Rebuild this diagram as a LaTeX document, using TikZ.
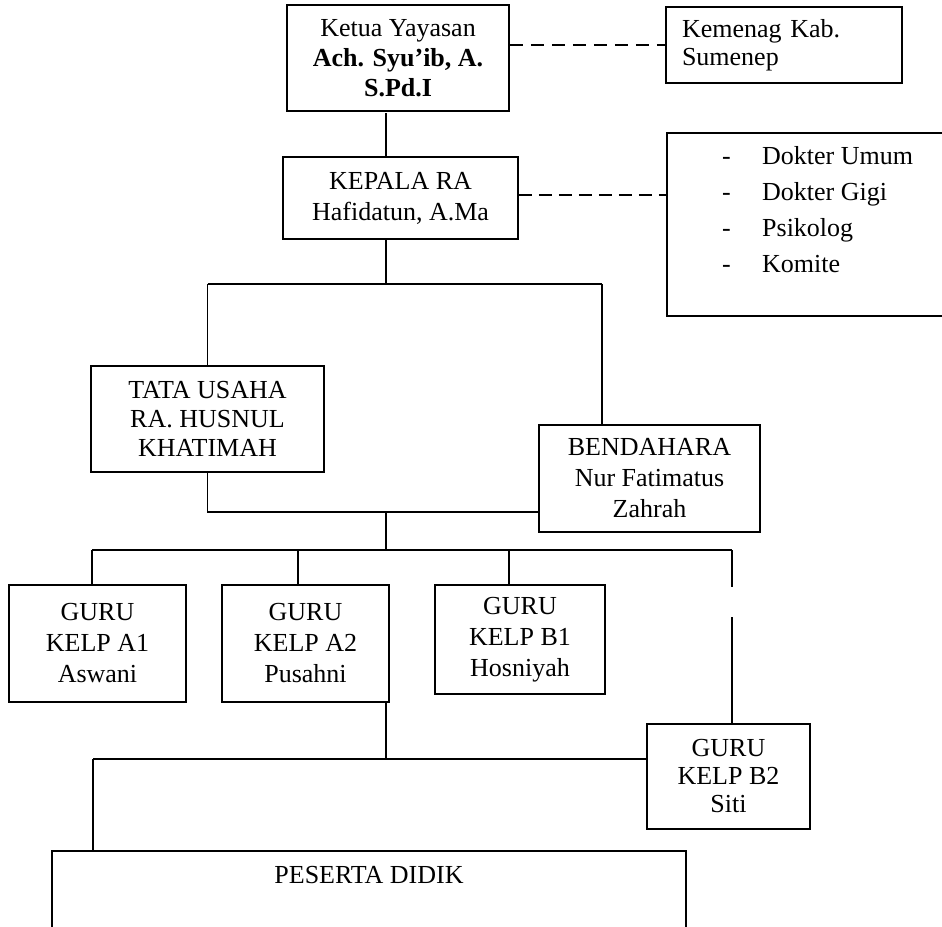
\documentclass[tikz,border=0pt]{standalone}
\usepackage{fontspec}
\setmainfont{Liberation Serif}
\begin{document}
\begin{tikzpicture}[x=1pt,y=-1pt,
  every node/.style={font=\fontsize{26}{31}\selectfont, text=black},
  box/.style={draw=black, line width=1.6pt, align=center, inner sep=0pt},
  conn/.style={draw=black, line width=1.5pt},
  dashconn/.style={draw=black, line width=1.5pt, dash pattern=on 13pt off 8pt}]
\useasboundingbox (0,0) rectangle (942,926);

% top level
\node[box, minimum width=222pt, minimum height=106pt, font=\fontsize{26}{30}\selectfont] (ketua) at (398,58)
  {Ketua Yayasan\\\textbf{Ach. Syu’ib, A.}\\\textbf{S.Pd.I}};
\node[box, align=left, text width=204pt, inner xsep=16pt, minimum height=76pt, font=\fontsize{26}{28}\selectfont] (kemenag) at (784,45)
  {Kemenag Kab.\\Sumenep};
\draw[dashconn] (ketua.east |- kemenag.west) -- (kemenag.west);

\node[box, minimum width=235pt, minimum height=82pt] (kepala) at (400.5,198)
  {KEPALA RA\\Hafidatun, A.Ma};
\node[box, minimum width=279pt, minimum height=183pt, anchor=north west] (mitra) at (666,132) {};
\node[anchor=north west, align=left, inner sep=0pt, font=\fontsize{26}{36}\selectfont] (mitratext) at (722,146)
  {\makebox[40pt][l]{-}Dokter Umum\\\makebox[40pt][l]{-}Dokter Gigi\\\makebox[40pt][l]{-}Psikolog\\\makebox[40pt][l]{-}Komite};
\draw[dashconn, dash pattern=on 13pt off 7pt] (kepala.east |- 0,195) -- (mitra.west |- 0,195);

\coordinate (sp0) at (386,113);
\draw[conn] (sp0) -- (sp0 |- kepala.north);

% staff
\node[box, minimum width=233pt, minimum height=106pt, font=\fontsize{26}{29}\selectfont] (tata) at (207.5,419)
  {TATA USAHA\\RA. HUSNUL\\KHATIMAH};
\node[box, minimum width=221pt, minimum height=107pt] (bendahara) at (649.5,478.5)
  {BENDAHARA\\Nur Fatimatus\\Zahrah};

\coordinate (h1) at (386,284);
\coordinate (bx) at (602,284);
\draw[conn] (kepala.south -| h1) -- (h1);
\draw[conn] (tata.north |- h1) -- (bx);
\draw[conn] (tata.north |- h1) -- (tata.north);
\draw[conn] (bx) -- (bx |- bendahara.north);

\coordinate (j1) at (386,512);
\coordinate (j2) at (386,550);
\draw[conn] (tata.south) -- (tata.south |- j1) -- (j1 -| bendahara.west);
\draw[conn] (j1) -- (j2);

% teachers
\node[box, minimum width=177pt, minimum height=117pt] (a1) at (97.5,643.5)
  {GURU\\KELP A1\\Aswani};
\node[box, minimum width=167pt, minimum height=117pt] (a2) at (305.5,643.5)
  {GURU\\KELP A2\\Pusahni};
\node[box, minimum width=170pt, minimum height=109pt] (b1) at (520,639.5)
  {GURU\\KELP B1\\Hosniyah};
\node[box, minimum width=163pt, minimum height=105pt, font=\fontsize{26}{28}\selectfont] (b2) at (728.5,776.5)
  {GURU\\KELP B2\\Siti};

\coordinate (g1) at (92,550);
\coordinate (g2) at (298,550);
\coordinate (g3) at (509,550);
\coordinate (g4) at (732,550);
\coordinate (gapa) at (732,587);
\coordinate (gapb) at (732,617);
\draw[conn] (g1) -- (g4);
\draw[conn] (g1) -- (g1 |- a1.north);
\draw[conn] (g2) -- (g2 |- a2.north);
\draw[conn] (g3) -- (g3 |- b1.north);
\draw[conn] (g4) -- (gapa);
\draw[conn] (gapb) -- (gapb |- b2.north);

% students
\node[box, minimum width=634pt, minimum height=90pt, anchor=north] (peserta) at (369,850) {};
\node[inner sep=0pt] (pesertatext) at (369,875) {PESERTA DIDIK};

\coordinate (j3) at (386,759);
\coordinate (k1) at (93,759);
\draw[conn] (a2.south -| j3) -- (j3);
\draw[conn] (k1) -- (j3 -| b2.west);
\draw[conn] (k1) -- (k1 |- peserta.north);
\end{tikzpicture}
\end{document}
